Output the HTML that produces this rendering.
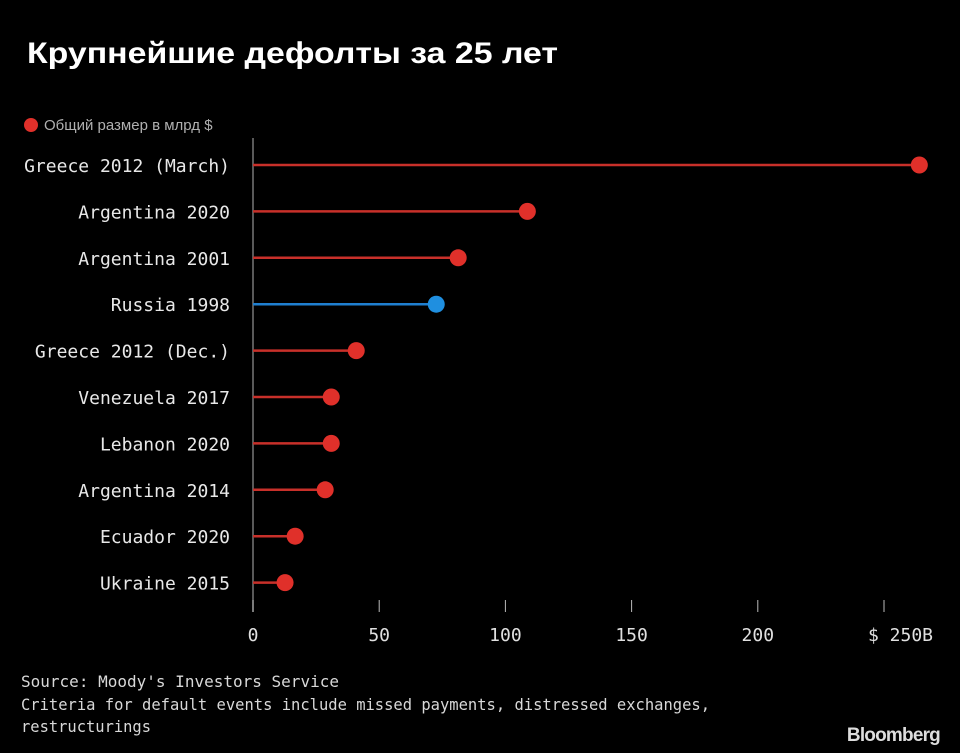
<!DOCTYPE html>
<html><head><meta charset="utf-8">
<style>
html,body{margin:0;padding:0;background:#000;}
body{width:960px;height:753px;overflow:hidden;position:relative;}
svg{position:absolute;left:0;top:0;}
</style></head>
<body>
<svg id="chart" width="960" height="753" viewBox="0 0 960 753" xmlns="http://www.w3.org/2000/svg">
<text x="27" y="63" fill="#fff" font-family="Liberation Sans, sans-serif" font-weight="bold" font-size="30" textLength="531" lengthAdjust="spacingAndGlyphs">Крупнейшие дефолты за 25 лет</text>
<g>
<circle cx="31" cy="125" r="7" fill="#e0302a"/>
<text x="44" y="130" fill="#b0b0b0" font-family="Liberation Sans, sans-serif" font-size="15">Общий размер в млрд $</text>
</g>
<line x1="253" y1="138" x2="253" y2="612" stroke="#777" stroke-width="1.5"/>
<g id="marks"></g>
<g id="xaxis"></g>
<g font-family="DejaVu Sans Mono, Liberation Mono, monospace" font-size="16" fill="#d8d8d8">
<text x="21" y="687" textLength="318" lengthAdjust="spacingAndGlyphs">Source: Moody's Investors Service</text>
<text x="21" y="710" textLength="689" lengthAdjust="spacingAndGlyphs">Criteria for default events include missed payments, distressed exchanges,</text>
<text x="21" y="732" textLength="130" lengthAdjust="spacingAndGlyphs">restructurings</text>
</g>
<text x="940" y="741" text-anchor="end" fill="#ddd" font-family="Liberation Sans, sans-serif" font-weight="bold" font-size="19" letter-spacing="-0.8">Bloomberg</text>
</svg>
<script>
const categories = ["Greece 2012 (March)","Argentina 2020","Argentina 2001","Russia 1998","Greece 2012 (Dec.)","Venezuela 2017","Lebanon 2020","Argentina 2014","Ecuador 2020","Ukraine 2015"];
const values = [264, 108.7, 81.3, 72.6, 40.9, 31, 31, 28.6, 16.7, 12.7];
const highlight = [false,false,false,true,false,false,false,false,false,false];
const ticks = [0,50,100,150,200,250];
const tickLabels = ["0","50","100","150","200","$ 250B"];

const NS = "http://www.w3.org/2000/svg";
const x = v => 253 + v * (884 - 253) / 250;
const y = i => 165 + i * 46.4;
const marks = document.getElementById('marks');
const xaxis = document.getElementById('xaxis');
function mk(tag, attrs, parent){const e=document.createElementNS(NS,tag);for(const k in attrs)e.setAttribute(k,attrs[k]);parent.appendChild(e);return e;}

categories.forEach((c,i)=>{
  const col = highlight[i] ? "#1f8fe0" : "#e0302a";
  const lineCol = highlight[i] ? "#1f7fd0" : "#c8302a";
  const lab = mk('text',{x:230,y:y(i)+7,'text-anchor':'end',fill:'#e8e8e8','font-family':'DejaVu Sans Mono, Liberation Mono, monospace','font-size':'18'},marks);
  
  
  lab.textContent = c;
  const ln = mk('line',{x1:x(0),y1:y(i),x2:x(values[i]),y2:y(i),stroke:lineCol,'stroke-width':2.5},marks);
  
  
  const dot = mk('circle',{cx:x(values[i]),cy:y(i),r:8.5,fill:col},marks);
  
  
});
ticks.forEach((t,i)=>{
  const tk = mk('line',{x1:x(t),y1:600,x2:x(t),y2:612,stroke:'#bbb','stroke-width':1},xaxis);
  
  
  const last = i===ticks.length-1;
  const tl = mk('text',{x:last?x(t)+49:x(t),y:641,'text-anchor':last?'end':'middle',fill:'#e0e0e0','font-family':'DejaVu Sans Mono, Liberation Mono, monospace','font-size':'18'},xaxis);
  
  
  tl.textContent = tickLabels[i];
});
</script>
</body></html>
